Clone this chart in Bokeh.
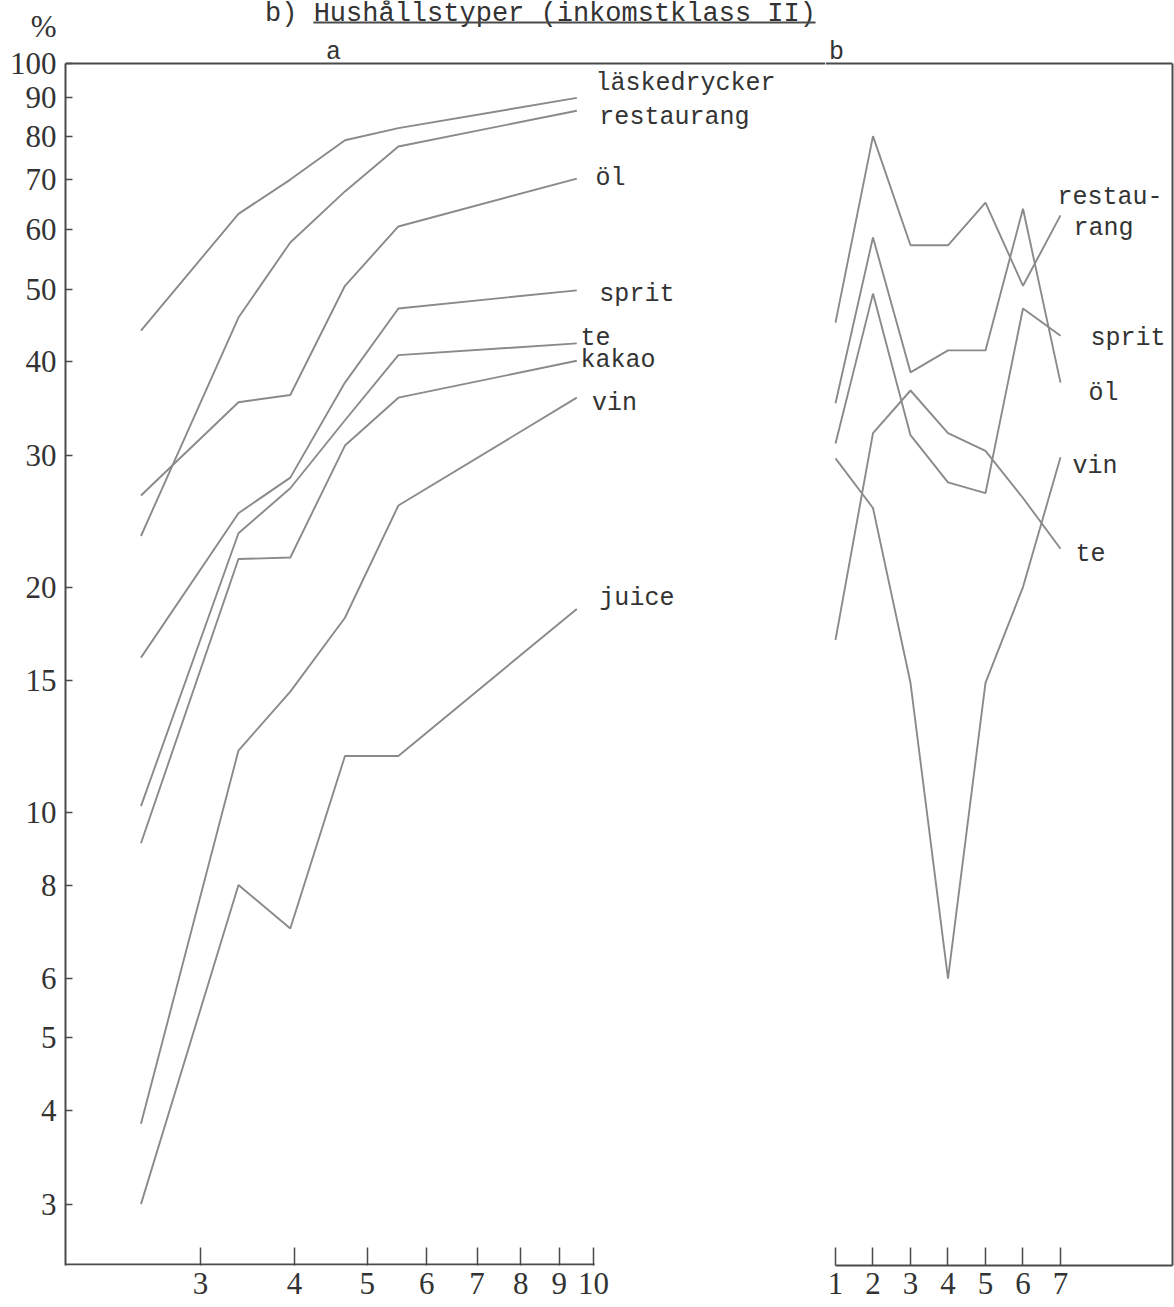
from bokeh.plotting import figure
from bokeh.models import Range1d, FixedTicker, PrintfTickFormatter, Span, Label, BoxAnnotation, LogAxis
from bokeh.layouts import row
from bokeh.core.properties import value
from bokeh.embed import file_html
from bokeh.resources import INLINE

# ---------------- data ----------------
# panel a (log x axis)
xa = [2.5, 3.37, 3.95, 4.67, 5.5, 9.5]
a_laskedrycker = [44, 63, 70, 79, 82, 90]
a_restaurang = [23.4, 45.8, 57.7, 67.5, 77.5, 86.5]
a_ol = [26.5, 35.3, 36.1, 50.5, 60.6, 70.2]
a_sprit = [16.1, 25.1, 28.0, 37.5, 47.1, 49.8]
a_te = [10.2, 23.6, 27.1, 33.4, 40.8, 42.3]
a_kakao = [9.1, 21.8, 21.9, 30.9, 35.8, 40.1]
a_vin = [3.84, 12.1, 14.5, 18.2, 25.7, 35.8]
a_juice = [3.0, 8.0, 7.0, 11.9, 11.9, 18.7]

# panel b (linear x axis)
xb = [1, 2, 3, 4, 5, 6, 7]
b_restaurang = [45.1, 80, 57.2, 57.2, 65.2, 50.5, 62.7]
b_ol = [35.2, 58.6, 38.7, 41.4, 41.4, 64.0, 37.5]
b_sprit = [31.1, 49.3, 31.9, 27.6, 26.7, 47.1, 43.3]
b_te = [17.0, 32.1, 36.6, 32.1, 30.4, 26.3, 22.5]
b_vin = [29.7, 25.5, 14.9, 6.0, 14.9, 20.0, 29.8]

y_ticks = [3, 4, 5, 6, 8, 10, 15, 20, 30, 40, 50, 60, 70, 80, 90, 100]
unit_tick = 112          # position of the "%" unit sign above the axis
xa_ticks = [3, 4, 5, 6, 7, 8, 9, 10]
xb_ticks = [1, 2, 3, 4, 5, 6, 7]

a_label_text = ["läskedrycker", "restaurang", "öl", "sprit", "te", "kakao", "vin", "juice"]
a_label_x = [10.06, 10.18, 10.06, 10.18, 9.61, 9.61, 9.95, 10.18]
a_label_y = [94.0, 84.7, 70.3, 49.1, 43.0, 40.1, 35.2, 19.3]

b_label_text = ["restau-", "rang", "sprit", "öl", "vin", "te"]
b_label_x = [6.92, 7.35, 7.8, 7.75, 7.32, 7.4]
b_label_y = [66.2, 60.2, 43.0, 36.3, 29.0, 22.1]

title_text = "b) Hushållstyper (inkomstklass II)"

# ---------------- styling ----------------
LINE = "#8a8a8a"
AX = "#4a4a4a"
TXT = "#333333"
MONO = "Liberation Mono"
SERIF = "Liberation Serif"

Y_LO, Y_HI = 2.484, 121.4
Y_RANGE = Range1d(Y_LO, Y_HI)
H = 1307
XA_LO, XA_HI = 1.984, 20.35
XA_END = 10.03
XB_LO, XB_HI = 0.7333, 9.987


def style_common(p):
    p.outline_line_color = None
    p.xgrid.visible = False
    p.ygrid.visible = False
    p.background_fill_color = "white"
    p.border_fill_color = "white"
    p.toolbar.logo = None


pa = figure(width=825, height=H, x_axis_type="log", y_axis_type="log",
            x_range=Range1d(XA_LO, XA_HI), y_range=Y_RANGE,
            toolbar_location=None, output_backend="svg",
            min_border_left=65, min_border_right=0, min_border_top=0, min_border_bottom=42)
style_common(pa)

pb = figure(width=349, height=H, y_axis_type="log",
            x_range=Range1d(XB_LO, XB_HI), y_range=Y_RANGE,
            toolbar_location=None, output_backend="svg",
            min_border_left=0, min_border_right=2, min_border_top=0, min_border_bottom=42)
style_common(pb)

# ---- panel a x axis (ticks + labels; base line drawn as a thin box from the left edge to 10)
xax = pa.xaxis[0]
xax.ticker = FixedTicker(ticks=xa_ticks, minor_ticks=[])
xax.formatter = PrintfTickFormatter(format="%d")
xax.bounds = (XA_LO, XA_END)
xax.axis_line_color = None
xax.major_tick_line_color = AX
xax.major_tick_line_width = 1.5
xax.minor_tick_line_color = None
xax.major_tick_out = 0
xax.major_tick_in = 18
xax.major_label_standoff = 7
xax.major_label_text_font = SERIF
xax.major_label_text_font_size = "31px"
xax.major_label_text_color = TXT
pa.add_layout(BoxAnnotation(left=XA_LO, right=XA_END, bottom=Y_LO, top=2.5,
                            fill_color=AX, fill_alpha=1.0, line_color=None))

# ---- panel a y axis: inner axis = line + (minor) tick marks, outer axis = labels (+ "%")
yax = pa.yaxis[0]
yax.ticker = FixedTicker(ticks=[], minor_ticks=y_ticks)
yax.bounds = (Y_LO, 100)
yax.axis_line_color = AX
yax.axis_line_width = 2
yax.major_tick_line_color = None
yax.minor_tick_line_color = AX
yax.minor_tick_line_width = 1.5
yax.minor_tick_out = 0
yax.minor_tick_in = 7
yax.major_tick_out = 0
yax.major_tick_in = 0
yax.major_label_standoff = 0

ylab = LogAxis(ticker=FixedTicker(ticks=y_ticks + [unit_tick], minor_ticks=[]),
               formatter=PrintfTickFormatter(format="%d"),
               major_label_overrides={unit_tick: "%"},
               bounds=(Y_LO, Y_HI), axis_line_color=None, major_tick_line_color=None,
               minor_tick_line_color=None, major_tick_out=0, major_tick_in=0,
               major_label_standoff=9, major_label_text_font=SERIF,
               major_label_text_font_size="31px", major_label_text_color=TXT)
pa.add_layout(ylab, "left")

# ---- panel b axes
bx = pb.xaxis[0]
bx.ticker = FixedTicker(ticks=xb_ticks, minor_ticks=[])
bx.formatter = PrintfTickFormatter(format="%d")
bx.bounds = (1, XB_HI)
bx.axis_line_color = AX
bx.axis_line_width = 2
bx.major_tick_line_color = AX
bx.major_tick_line_width = 1.5
bx.minor_tick_line_color = None
bx.major_tick_out = 0
bx.major_tick_in = 18
bx.major_label_standoff = 7
bx.major_label_text_font = SERIF
bx.major_label_text_font_size = "31px"
bx.major_label_text_color = TXT
pb.yaxis.visible = False

rax = LogAxis(ticker=FixedTicker(ticks=[], minor_ticks=[]), bounds=(Y_LO, 100),
              axis_line_color=AX, axis_line_width=2, major_tick_line_color=None,
              minor_tick_line_color=None, major_label_standoff=0,
              major_tick_out=0, major_tick_in=0)
pb.add_layout(rax, "right")

# top frame line at 100 %
for p in (pa, pb):
    p.add_layout(Span(location=100, dimension="width", line_color=AX, line_width=2))

# series lines
for ys in (a_laskedrycker, a_restaurang, a_ol, a_sprit, a_te, a_kakao, a_vin, a_juice):
    pa.line(xa, ys, line_color=LINE, line_width=1.9)
for ys in (b_restaurang, b_ol, b_sprit, b_te, b_vin):
    pb.line(xb, ys, line_color=LINE, line_width=1.9)

# series labels
pa.text(x=a_label_x, y=a_label_y, text=a_label_text, text_font=value(MONO),
        text_font_size="25px", text_color=TXT, text_baseline="alphabetic", text_align="left")
pb.text(x=b_label_x, y=b_label_y, text=b_label_text, text_font=value(MONO),
        text_font_size="25px", text_color=TXT, text_baseline="alphabetic", text_align="left")

# panel letters
pa.add_layout(Label(x=4.51, y=103.5, text="a", text_font=MONO, text_font_size="25px",
                    text_color=TXT, text_align="center", text_baseline="alphabetic"))
pb.add_layout(Label(x=1.03, y=103.5, text="b", text_font=MONO, text_font_size="25px",
                    text_color=TXT, text_align="center", text_baseline="alphabetic"))
# heading with underline
pa.add_layout(Label(x=8.5, y=116.6, text=title_text, text_font=MONO, text_font_size="27px",
                    text_color=TXT, text_align="center", text_baseline="alphabetic"))
pa.add_layout(BoxAnnotation(left=4.24, right=19.74, bottom=113.1, top=113.8,
                            fill_color=AX, fill_alpha=1.0, line_color=None))

layout = row(pa, pb, spacing=0)
open("out.html", "w").write(file_html(layout, INLINE))
